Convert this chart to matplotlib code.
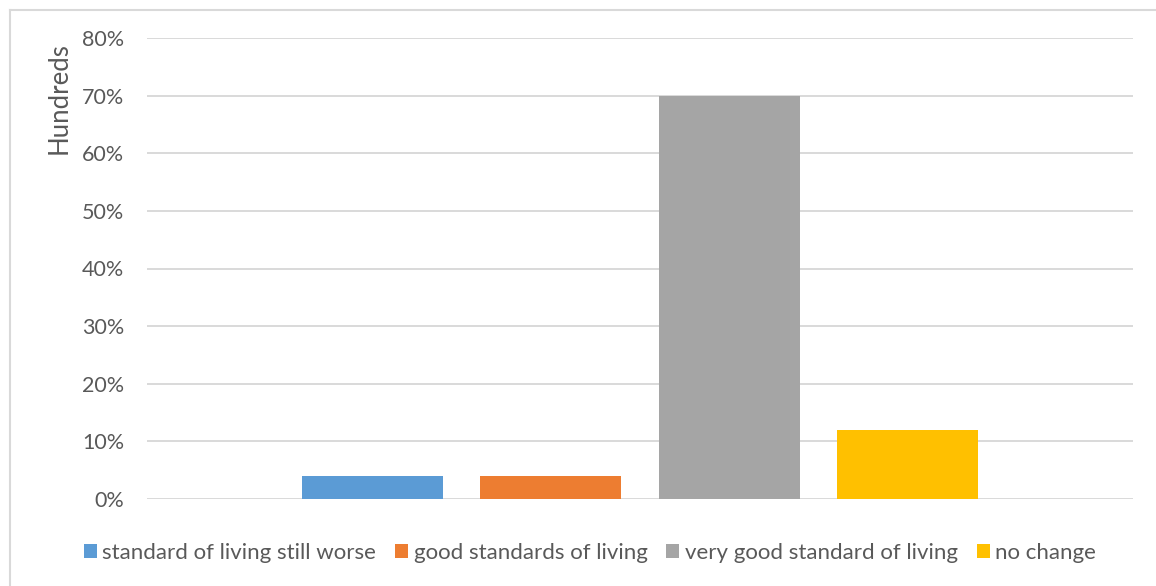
import matplotlib
matplotlib.use("Agg")
import matplotlib.pyplot as plt
from matplotlib.lines import Line2D
from matplotlib.patches import Patch
from matplotlib.ticker import PercentFormatter

plt.rcParams["font.family"] = ["Lato", "DejaVu Sans"]

series_names = [
    "standard of living still worse",
    "good standards of living",
    "very good standard of living",
    "no change",
]
values = [0.04, 0.04, 0.70, 0.12]
colors = ["#5b9bd5", "#ed7d31", "#a5a5a5", "#ffc000"]
y_ticks = [0.0, 0.1, 0.2, 0.3, 0.4, 0.5, 0.6, 0.7, 0.8]

text_color = "#595959"
grid_color = "#d9d9d9"

fig = plt.figure(figsize=(11.56, 5.86), dpi=100)
ax = fig.add_axes([147 / 1156, 1 - 499 / 586, (1133 - 147) / 1156, (499 - 38) / 586])

# one category, four side-by-side series
step = 0.1812
width = 0.143
for i, (name, v, c) in enumerate(zip(series_names, values, colors)):
    ax.bar((i - 1.5) * step, v, width=width, color=c, label=name, zorder=3)

ax.set_xlim(-0.5, 0.5)
ax.set_ylim(0, 0.8)
ax.set_yticks(y_ticks)
ax.yaxis.set_major_formatter(PercentFormatter(1.0, decimals=0))
ax.set_xticks([])
ax.grid(axis="y", color=grid_color, linewidth=1.4, zorder=0)
for s in ax.spines.values():
    s.set_visible(False)
ax.tick_params(axis="y", length=0, pad=16.5, labelsize=15.5, labelcolor=text_color)

ax.set_ylabel("Hundreds", fontsize=18.5, color=text_color)
ax.yaxis.set_label_coords(-0.076, 0.869)

handles = [Patch(facecolor=c, edgecolor="none") for c in colors]
fig.legend(handles, series_names, loc="center", bbox_to_anchor=(590 / 1156, 1 - 553 / 586),
           ncol=4, frameon=False, fontsize=16, labelcolor=text_color,
           handlelength=0.58, handleheight=0.58, handletextpad=0.25, columnspacing=0.85)

# chart-area border (left and top edges)
fig.add_artist(Line2D([9.5 / 1156, 9.5 / 1156], [0, 1 - 9.5 / 586], transform=fig.transFigure,
                      color=grid_color, linewidth=1.5))
fig.add_artist(Line2D([9.5 / 1156, 1], [1 - 9.5 / 586, 1 - 9.5 / 586], transform=fig.transFigure,
                      color=grid_color, linewidth=1.5))

fig.savefig("out.png", dpi=100)
